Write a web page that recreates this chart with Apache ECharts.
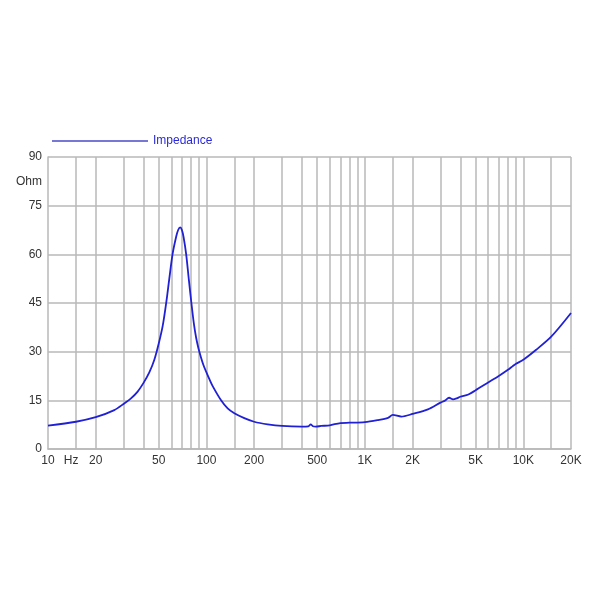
<!DOCTYPE html>
<html>
<head>
<meta charset="utf-8">
<script src="https://cdn.jsdelivr.net/npm/echarts@6/dist/echarts.min.js"></script>
<style>html,body{margin:0;padding:0;background:#fff}#c{width:600px;height:600px}</style>
</head>
<body>
<div id="c"></div>
<script>
// Frequency (Hz) and impedance (Ohm)
var freqs = [10, 15, 20, 26.2, 30, 33.4, 36.8, 40, 43.6, 46.9, 50, 53, 55.9, 58.3, 61.1, 64.4, 66.3, 68.3, 70, 71.7, 74.5, 77.6, 80.8, 83.4, 86.1, 89.1, 92.3, 95.7, 100, 104.4, 109.7, 123.7, 136.1, 150, 173.4, 200, 243.6, 300, 400, 440, 455, 470, 490, 530, 600, 700, 800, 1000, 1200, 1400, 1500, 1700, 2000, 2500, 3000, 3200, 3400, 3600, 3800, 4000, 4500, 5000, 6000, 7000, 8000, 8600, 9000, 10000, 12000, 15000, 20000];
var ohms  = [7.2, 8.4, 9.8, 12.0, 13.9, 15.6, 17.7, 20.3, 23.6, 27.5, 32.5, 38.0, 45.5, 52.5, 60.0, 65.4, 67.5, 68.3, 67.5, 65.4, 60.0, 51.8, 44.0, 38.5, 34.3, 31.0, 28.3, 25.9, 23.6, 21.5, 19.3, 15.0, 12.5, 11.0, 9.5, 8.4, 7.6, 7.1, 6.9, 7.0, 7.6, 7.0, 6.9, 7.1, 7.3, 8.0, 8.1, 8.3, 8.9, 9.6, 10.5, 10.0, 10.8, 12.2, 14.3, 14.9, 15.8, 15.3, 15.6, 16.1, 16.8, 18.1, 20.5, 22.5, 24.4, 25.6, 26.3, 27.5, 30.5, 34.6, 41.9];
var xTickValues = [10, 14, 20, 50, 100, 200, 500, 1000, 2000, 5000, 10000, 20000];
var xTickLabels = ['10', 'Hz', '20', '50', '100', '200', '500', '1K', '2K', '5K', '10K', '20K'];
var xGridValues = [15, 20, 30, 40, 50, 60, 70, 80, 90, 100, 150, 200, 300, 400, 500, 600, 700, 800, 900, 1000, 1500, 2000, 3000, 4000, 5000, 6000, 7000, 8000, 9000, 10000, 15000, 20000];
var yTickValues = [0, 15, 30, 45, 60, 75, 82.5, 90];
var yTickLabels = ['0', '15', '30', '45', '60', '75', 'Ohm', '90'];
var seriesName = 'Impedance';

var data = freqs.map(function (f, i) { return [f, ohms[i]]; });
var gridColor = '#b8b8b8';
var chart = echarts.init(document.getElementById('c'));
chart.setOption({
  animation: false,
  textStyle: { fontFamily: 'Liberation Sans, Arial, sans-serif' },
  legend: {
    left: 52, top: 135, padding: 0,
    itemWidth: 96, itemHeight: 14, itemGap: 4,
    textStyle: { color: '#2b2bd6', fontSize: 12, padding: [0, 0, 0, 0], fontFamily: 'Liberation Sans, Arial, sans-serif' },
    data: [{ name: seriesName, icon: 'path://M0,0 L100,0 L100,1.5 L0,1.5 Z', itemStyle: { color: '#4a4ac8' } }]
  },
  grid: { left: 48, right: 29, top: 157, bottom: 151, containLabel: false },
  xAxis: {
    type: 'log', logBase: 10, min: 10, max: 20000,
    axisLine: { show: true, lineStyle: { color: gridColor, width: 1.5 } },
    axisTick: { show: false },
    splitLine: { show: false },
    minorSplitLine: { show: false },
    axisLabel: {
      customValues: xTickValues,
      margin: 6,
      color: '#333', fontSize: 12,
      formatter: function (v) {
        var i = -1;
        for (var k = 0; k < xTickValues.length; k++) { if (Math.abs(xTickValues[k] - v) / v < 1e-6) i = k; }
        return i >= 0 ? xTickLabels[i] : '';
      }
    }
  },
  yAxis: {
    type: 'value', min: 0, max: 90, interval: 15,
    axisLine: { show: true, lineStyle: { color: gridColor, width: 1.5 } },
    axisTick: { show: false },
    splitLine: { show: true, lineStyle: { color: gridColor, width: 1.5 } },
    axisLabel: {
      customValues: yTickValues,
      margin: 6,
      color: '#333', fontSize: 12,
      formatter: function (v) {
        var i = yTickValues.indexOf(+v);
        return i >= 0 ? yTickLabels[i] : '';
      }
    }
  },
  series: [{
    name: seriesName,
    type: 'line',
    data: data,
    showSymbol: false,
    smooth: 0.3,
    lineStyle: { color: '#2020d4', width: 1.8 },
    itemStyle: { color: '#2020d4' },
    markLine: {
      silent: true,
      symbol: ['none', 'none'],
      label: { show: false },
      lineStyle: { color: gridColor, width: 1.5, type: 'solid' },
      data: xGridValues.map(function (v) { return { xAxis: v }; }),
      z: 1
    },
    z: 5
  }]
});
</script>
</body>
</html>
